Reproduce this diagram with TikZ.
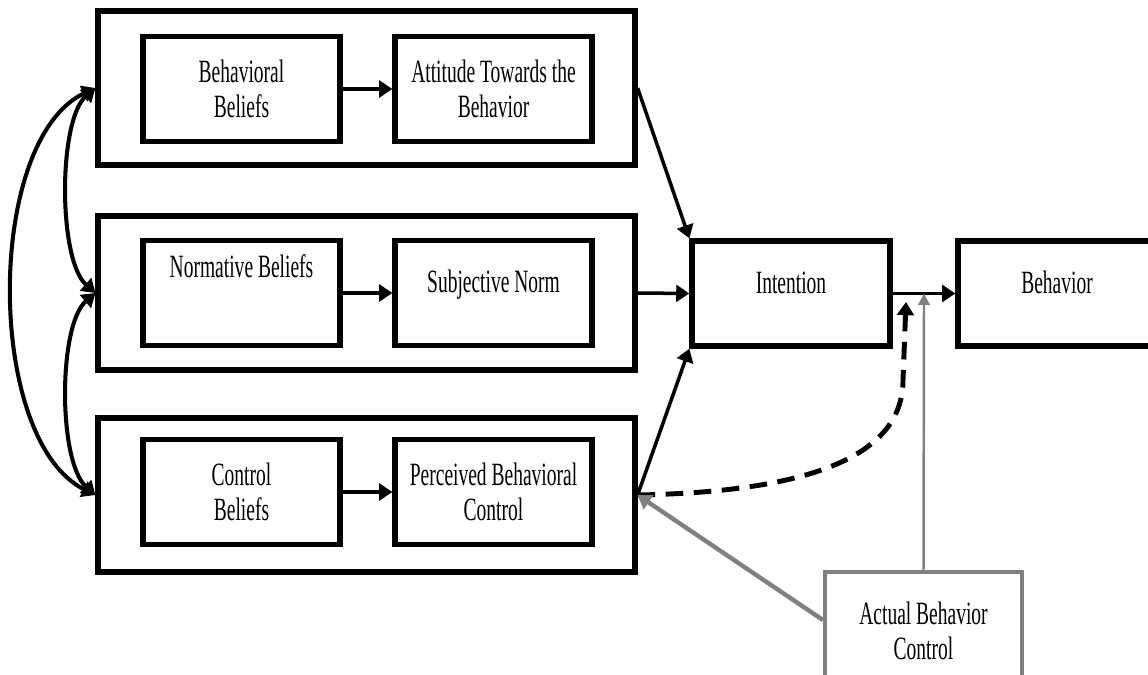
\documentclass[tikz,border=0pt]{standalone}
\usepackage{fontspec}
\setmainfont{Liberation Serif}[FakeStretch=0.6]
\usetikzlibrary{arrows.meta,calc}
\definecolor{actgray}{RGB}{128,128,128}

\begin{document}
\begin{tikzpicture}[x=0.02cm,y=-0.02cm,
	>={Triangle[length=7.5pt,width=9.5pt]},
	outerbox/.style={draw,line width=3pt,minimum width=10.74cm,minimum height=3.08cm},
	innerbox/.style={draw,line width=3pt,minimum width=3.94cm,minimum height=2.1cm,align=center,font=\fontsize{18.5}{19.5}\selectfont},
	oneline/.style={text height=0.45cm,text depth=0.45cm},
	bigbox/.style={innerbox,oneline,minimum width=3.96cm},
	link/.style={line width=2pt,->}]
					\useasboundingbox (0,0) rectangle (1148,675);
					\node[outerbox] (row1) at (366.5,88) {};
					\node[outerbox] (row2) at (366.5,293) {};
					\node[outerbox] (row3) at (366.5,495) {};
					\node[innerbox] (bb) at (241.5,89) {Behavioral\\Beliefs};
					\node[innerbox] (att) at (493.5,89) {Attitude Towards the\\Behavior};
					\node[innerbox,text height=0.45cm,text depth=1.09cm] (nb) at (241.5,293) {Normative Beliefs};
					\node[innerbox,oneline] (sn) at (493.5,293) {Subjective Norm};
					\node[innerbox] (cb) at (241.5,492) {Control\\Beliefs};
					\node[innerbox] (pbc) at (493.5,492) {Perceived Behavioral\\Control};
					\node[bigbox] (int) at (791,293.5) {Intention};
					\node[bigbox] (beh) at (1057,293.5) {Behavior};
					\node[innerbox,draw=actgray,line width=2.4pt,minimum height=2.36cm] (abc) at (923.5,631) {Actual Behavior\\Control};
					\coordinate (junction) at ($(int.east)!0.5!(beh.west)$);
					\coordinate (dashend) at (906,302);
					
					\draw[link,line width=2.6pt] (bb) -- (att);
					\draw[link,line width=2.6pt] (nb.east |- sn.west) -- (sn.west);
					\draw[link,line width=2.6pt] (cb) -- (pbc);
					\draw[link] (row1.east) -- (int.north west);
					\draw[link] (row2.east) -- (int.west);
					\draw[link] (row3.east) -- (int.south west);
					\draw[link] (int.east) -- (beh.west);
					\draw[link,<->,line width=2.3pt] (row1.west) .. controls (-15,140) and (-15,440) .. (row3.west);
					\draw[link,<->,line width=2.3pt] (row1.west) .. controls (58,120) and (58,260) .. (row2.west);
					\draw[link,<->,line width=2.3pt] (row2.west) .. controls (58,325) and (58,462) .. (row3.west);
					\draw[->,line width=2.8pt,dash pattern=on 10pt off 6pt] (row3.east) .. controls (800,492) and (903,460) .. (903,380) -- (dashend);
					\draw[->,actgray,line width=1.4pt,>={Triangle[length=6.5pt,width=6.5pt]}] (abc.north) -- (junction);
					\draw[->,actgray,line width=2.5pt] ([yshift=0.22cm]abc.west) -- (row3.east);
				\end{tikzpicture}
\end{document}
